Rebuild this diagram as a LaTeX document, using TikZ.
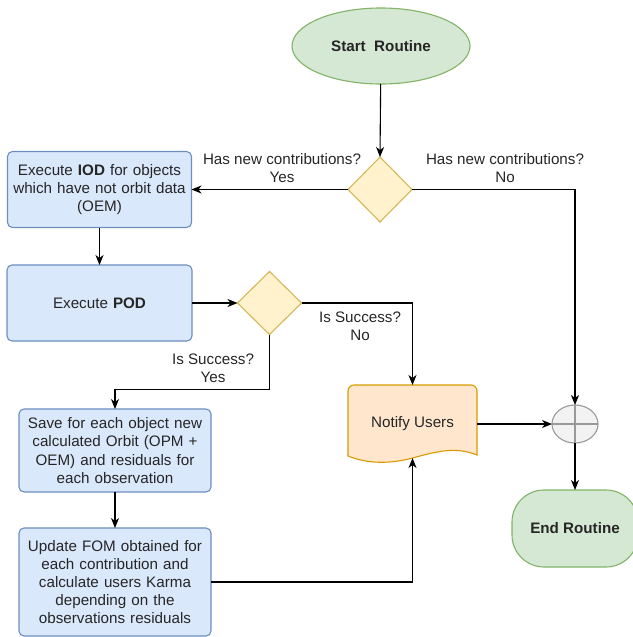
\documentclass[tikz,border=0pt]{standalone}
\usepackage{fontspec}
\setmainfont{Liberation Sans}
\usetikzlibrary{shapes.geometric,arrows.meta}
\definecolor{greenfill}{HTML}{D5E8D4}
\definecolor{greenline}{HTML}{82B366}
\definecolor{bluefill}{HTML}{DAE8FC}
\definecolor{blueline}{HTML}{6C8EBF}
\definecolor{yellowfill}{HTML}{FFF2CC}
\definecolor{yellowline}{HTML}{D6B656}
\definecolor{orangefill}{HTML}{FFE6CC}
\definecolor{orangeline}{HTML}{D79B00}
\definecolor{grayfill}{HTML}{F2F2F2}
\definecolor{grayline}{HTML}{999999}
\definecolor{textcol}{HTML}{262626}
\begin{document}
\begin{tikzpicture}[x=1pt,y=-1pt,
  every node/.style={font=\fontsize{15.2}{18.2}\selectfont, text=textcol, outer sep=0pt, inner sep=2pt},
  terminal/.style={ellipse, draw=greenline, fill=greenfill, line width=1.1pt},
  endbox/.style={rectangle, rounded corners=32pt, draw=greenline, fill=greenfill, line width=1.1pt},
  process/.style={rectangle, rounded corners=5pt, draw=blueline, fill=bluefill, line width=1.1pt, align=center},
  decision/.style={diamond, draw=yellowline, fill=yellowfill, line width=1.1pt},
  docnode/.style={rectangle, minimum width=129pt, minimum height=73pt},
  junction/.style={ellipse, draw=grayline, fill=grayfill, line width=1.1pt},
  label/.style={align=center, inner sep=0pt},
  flow/.style={line width=1.1pt, draw=black, -{Stealth[length=10pt,width=8pt,inset=3pt]}}
]
\useasboundingbox (0,0) rectangle (632,637);

% start and end
\node[terminal, minimum width=178pt, minimum height=76pt] (start) at (381,46) {\textbf{Start\ \ Routine}};
\node[endbox, minimum width=126pt, minimum height=77pt] (end) at (575,528.5) {\textbf{End Routine}};

% decisions
\node[decision, minimum width=64pt, minimum height=65pt] (d1) at (380,189.5) {};
\node[decision, minimum width=64pt, minimum height=63pt] (d2) at (269.5,303) {};

% process steps
\node[process, minimum width=184pt, minimum height=76pt, text width=178pt] (iod) at (99.5,189.5)
  {Execute \textbf{IOD} for objects\\which have not orbit data\\(OEM)};
\node[process, minimum width=185pt, minimum height=76pt, text width=178pt] (pod) at (99.5,303)
  {Execute \textbf{POD}};
\node[process, minimum width=192pt, minimum height=83pt, text width=186pt] (save) at (115,450.5)
  {Save for each object new\\calculated Orbit (OPM +\\OEM) and residuals for\\each observation};
\node[process, minimum width=192pt, minimum height=108pt, text width=186pt] (upd) at (115,582)
  {Update FOM obtained for\\each contribution and\\calculate users Karma\\depending on the\\observations residuals};

% notify users document shape
\node[docnode] (notify) at (412.5,421.5) {};
\draw[draw=orangeline, fill=orangefill, line width=1.1pt]
  (348,456) -- (348,391) arc[start angle=180, end angle=90, radius=6pt] -- (471,385)
  arc[start angle=90, end angle=0, radius=6pt] -- (477,455)
  .. controls (455,446) and (435,452) .. (412.5,458)
  .. controls (390,464) and (368,464) .. (348,456) -- cycle;
\node at (412.5,424) {Notify Users};

% junction
\node[junction, minimum width=46pt, minimum height=38pt] (circ) at (575,424) {};
\draw[grayline, line width=1.6pt] (circ.north) -- (circ.south) (circ.west) -- (circ.east);

% connectors
\draw[flow] (start) -- (d1.north);
\draw[flow] (d1.west) -- (iod.east);
\node[label] at (282,168) {Has new contributions?\\Yes};
\draw[flow] (d1.east) -| (circ.north);
\node[label] at (505,168) {Has new contributions?\\No};
\draw[flow] (iod.south) -- (pod.north);
\draw[flow] (pod.east) -- (d2.west);
\draw[flow] (d2.east) -| (notify.north);
\node[label] at (360,326) {Is Success?\\No};
\draw[flow] (d2.south) -- ++(0,55) -| (save.north);
\node[label] at (213,368) {Is Success?\\Yes};
\draw[flow] (save.south) -- (upd.north);
\draw[flow] (upd.east) -| (notify.south);
\draw[flow] (circ.west -| notify.east) -- (circ.west);
\draw[flow] (circ.south) -- (end.north);
\end{tikzpicture}
\end{document}
